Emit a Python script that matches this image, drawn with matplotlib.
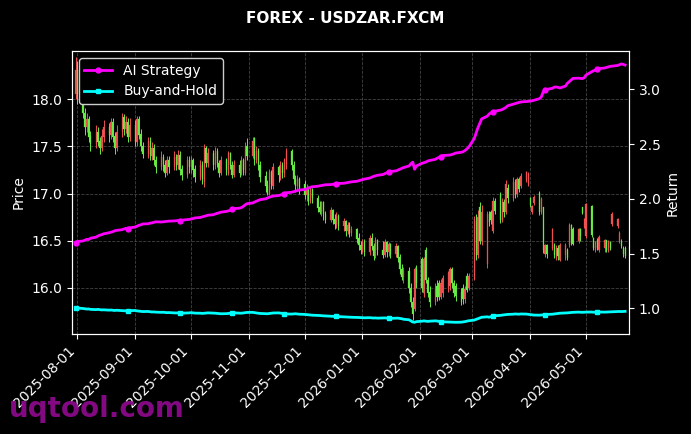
import matplotlib
matplotlib.use("Agg")
import matplotlib.pyplot as plt
import matplotlib.dates as mdates
import numpy as np
import pandas as pd

# ---------------- data ----------------
start_date = "2025-07-31"

price_open = [
    18.05, 18.30, 18.05, 17.85, 17.70, 17.78, 17.60, 17.52, 17.65, 17.55, 17.48, 17.60, 17.70, 17.62, 17.75, 17.60, 17.48, 17.65, 17.80, 17.68, 17.75, 17.60,
    17.72, 17.55, 17.78, 17.62, 17.50, 17.42, 17.55, 17.40, 17.48, 17.35, 17.28, 17.38, 17.30, 17.22, 17.35, 17.28, 17.38, 17.30, 17.40, 17.25, 17.20, 17.35,
    17.28, 17.35, 17.25, 17.18, 17.30, 17.12, 17.48, 17.32, 17.42, 17.30, 17.45, 17.32, 17.22, 17.35, 17.22, 17.42, 17.30, 17.20, 17.30, 17.22, 17.35, 17.22, 17.50,
    17.40, 17.58, 17.35, 17.45, 17.30, 17.18, 17.08, 17.00, 17.22, 17.08, 17.28, 17.18, 17.30, 17.22, 17.30, 17.45, 17.30, 17.15, 17.08, 17.15,
    17.10, 16.98, 17.05, 16.92, 17.04, 16.95, 16.85, 16.80, 16.90, 16.78, 16.72, 16.82, 16.72, 16.68, 16.76, 16.66, 16.70, 16.60, 16.66, 16.58, 16.62, 16.52, 16.45,
    16.40, 16.48, 16.38, 16.52, 16.44, 16.34, 16.50, 16.40, 16.35, 16.48, 16.38, 16.46, 16.36, 16.44, 16.32, 16.20, 16.12, 16.18, 16.00, 15.85, 15.78, 16.20,
    16.30, 15.95, 16.40, 16.08, 15.95, 15.85, 16.02, 16.05, 15.90, 15.95, 16.00, 16.02, 16.20, 16.05, 16.02, 15.95, 16.00, 15.88, 16.12, 16.00,
    16.10, 16.70, 16.35, 16.85, 16.50, 16.25, 16.78, 16.80, 16.60, 16.92, 16.98, 16.72, 16.90, 16.80, 17.05, 16.95, 17.12, 17.00, 17.15, 17.08, 17.14, 17.10,
    16.95, 16.80, 16.90, 17.00, 16.80, 16.85, 16.36, 16.45, 16.42, 16.45, 16.32, 16.42, 16.30, 16.35, 16.40, 16.45, 16.66, 16.62, 16.50, 16.62, 16.85, 16.65,
    16.55, 16.86, 16.52, 16.40, 16.50, 16.40, 16.42, 16.50, 16.40, 16.48, 16.68, 16.66, 16.50, 16.48, 16.42, 16.42,
]
price_high = [
    18.45, 18.40, 18.10, 17.90, 17.85, 17.82, 17.66, 17.72, 17.70, 17.60, 17.68, 17.78, 17.75, 17.80, 17.80, 17.65, 17.72, 17.85, 17.84, 17.82, 17.80, 17.80,
    17.78, 17.82, 17.82, 17.68, 17.55, 17.60, 17.60, 17.55, 17.52, 17.40, 17.45, 17.42, 17.35, 17.40, 17.40, 17.45, 17.42, 17.46, 17.45, 17.30, 17.40, 17.40,
    17.40, 17.38, 17.30, 17.35, 17.34, 17.52, 17.50, 17.48, 17.46, 17.49, 17.48, 17.36, 17.40, 17.38, 17.45, 17.44, 17.34, 17.36, 17.35, 17.40, 17.38, 17.55, 17.59,
    17.60, 17.60, 17.50, 17.48, 17.34, 17.24, 17.14, 17.26, 17.25, 17.32, 17.30, 17.34, 17.33, 17.38, 17.48, 17.47, 17.34, 17.20, 17.20, 17.18,
    17.14, 17.10, 17.08, 17.07, 17.06, 16.98, 16.92, 16.92, 16.92, 16.82, 16.86, 16.84, 16.78, 16.80, 16.78, 16.74, 16.72, 16.70, 16.70, 16.66, 16.64, 16.58, 16.50,
    16.52, 16.52, 16.56, 16.58, 16.48, 16.54, 16.52, 16.50, 16.52, 16.50, 16.49, 16.48, 16.48, 16.46, 16.36, 16.25, 16.22, 16.22, 16.05, 15.90, 16.22, 16.24,
    16.33, 16.33, 16.43, 16.12, 16.02, 16.05, 16.08, 16.08, 16.10, 16.14, 16.18, 16.22, 16.22, 16.08, 16.05, 16.00, 16.04, 16.02, 16.16, 16.16,
    16.76, 16.78, 16.83, 16.91, 16.88, 16.82, 16.82, 16.83, 16.96, 16.95, 17.02, 16.95, 16.94, 17.14, 17.10, 17.17, 17.15, 17.18, 17.18, 17.22, 17.24, 17.23,
    16.96, 16.88, 16.98, 17.03, 16.96, 16.86, 16.47, 16.47, 16.64, 16.48, 16.45, 16.45, 16.48, 16.48, 16.42, 16.69, 16.68, 16.65, 16.64, 16.64, 16.86, 16.74,
    16.90, 16.88, 16.54, 16.50, 16.53, 16.56, 16.52, 16.51, 16.51, 16.50, 16.80, 16.74, 16.60, 16.52, 16.44, 16.44,
]
price_low = [
    18.00, 17.95, 17.80, 17.62, 17.65, 17.55, 17.45, 17.48, 17.50, 17.42, 17.45, 17.55, 17.55, 17.58, 17.55, 17.42, 17.45, 17.60, 17.62, 17.64, 17.55, 17.56,
    17.50, 17.50, 17.58, 17.45, 17.38, 17.38, 17.35, 17.36, 17.30, 17.22, 17.25, 17.24, 17.18, 17.20, 17.22, 17.25, 17.25, 17.26, 17.20, 17.14, 17.16, 17.22,
    17.22, 17.18, 17.12, 17.14, 17.10, 17.07, 17.28, 17.28, 17.25, 17.26, 17.28, 17.18, 17.20, 17.20, 17.20, 17.26, 17.16, 17.17, 17.18, 17.20, 17.20, 17.20, 17.35,
    17.38, 17.30, 17.32, 17.25, 17.12, 17.02, 16.98, 16.98, 17.05, 17.05, 17.12, 17.14, 17.16, 17.18, 17.26, 17.25, 17.10, 17.02, 17.04, 17.00,
    16.94, 16.92, 16.88, 16.90, 16.90, 16.80, 16.78, 16.76, 16.72, 16.69, 16.70, 16.68, 16.62, 16.64, 16.61, 16.60, 16.55, 16.57, 16.54, 16.55, 16.48, 16.40, 16.36,
    16.37, 16.34, 16.35, 16.40, 16.30, 16.32, 16.35, 16.32, 16.33, 16.33, 16.34, 16.32, 16.33, 16.28, 16.15, 16.08, 16.05, 15.95, 15.80, 15.66, 15.76, 16.00,
    15.96, 15.90, 16.05, 15.90, 15.80, 15.82, 15.86, 15.87, 15.88, 15.90, 15.96, 15.98, 16.00, 15.90, 15.86, 15.82, 15.83, 15.84, 15.96, 15.98,
    16.08, 16.30, 16.32, 16.47, 16.45, 16.21, 16.66, 16.68, 16.58, 16.78, 16.69, 16.70, 16.75, 16.78, 16.90, 16.92, 16.95, 16.96, 17.02, 17.06, 17.12, 17.08,
    16.86, 16.78, 16.88, 16.77, 16.78, 16.37, 16.33, 16.32, 16.40, 16.32, 16.30, 16.30, 16.29, 16.30, 16.30, 16.43, 16.45, 16.45, 16.48, 16.50, 16.78, 16.63,
    16.53, 16.54, 16.40, 16.38, 16.40, 16.38, 16.38, 16.38, 16.38, 16.40, 16.66, 16.64, 16.48, 16.42, 16.33, 16.32,
]
price_close = [
    18.30, 18.05, 17.85, 17.70, 17.78, 17.60, 17.52, 17.65, 17.55, 17.48, 17.60, 17.70, 17.62, 17.75, 17.60, 17.48, 17.65, 17.80, 17.68, 17.75, 17.60, 17.72,
    17.55, 17.78, 17.62, 17.50, 17.42, 17.55, 17.40, 17.48, 17.35, 17.28, 17.38, 17.30, 17.22, 17.35, 17.28, 17.38, 17.30, 17.40, 17.25, 17.20, 17.35, 17.28,
    17.35, 17.25, 17.18, 17.30, 17.15, 17.48, 17.32, 17.42, 17.30, 17.45, 17.32, 17.22, 17.35, 17.25, 17.42, 17.30, 17.20, 17.30, 17.22, 17.35, 17.25, 17.50, 17.40,
    17.55, 17.35, 17.45, 17.30, 17.18, 17.08, 17.00, 17.22, 17.10, 17.28, 17.20, 17.30, 17.22, 17.35, 17.45, 17.30, 17.15, 17.08, 17.15, 17.05,
    16.98, 17.05, 16.92, 17.04, 16.95, 16.85, 16.80, 16.90, 16.78, 16.72, 16.82, 16.72, 16.68, 16.76, 16.66, 16.70, 16.60, 16.66, 16.58, 16.62, 16.52, 16.45, 16.40,
    16.48, 16.38, 16.52, 16.44, 16.34, 16.50, 16.40, 16.35, 16.48, 16.38, 16.46, 16.36, 16.44, 16.32, 16.20, 16.12, 16.18, 16.00, 15.85, 15.72, 16.20, 16.05,
    16.00, 16.30, 16.08, 15.95, 15.85, 15.98, 15.90, 15.90, 16.05, 16.10, 16.15, 16.20, 16.05, 15.95, 15.92, 15.85, 15.88, 15.98, 15.98, 16.12,
    16.72, 16.35, 16.75, 16.50, 16.80, 16.78, 16.70, 16.72, 16.92, 16.82, 16.72, 16.90, 16.80, 17.10, 16.95, 17.12, 17.00, 17.15, 17.05, 17.18, 17.22, 17.20,
    16.88, 16.86, 16.96, 16.80, 16.94, 16.40, 16.45, 16.36, 16.62, 16.35, 16.42, 16.34, 16.45, 16.45, 16.32, 16.66, 16.48, 16.47, 16.62, 16.55, 16.79, 16.72,
    16.88, 16.56, 16.42, 16.48, 16.42, 16.54, 16.50, 16.40, 16.48, 16.42, 16.78, 16.72, 16.58, 16.44, 16.36, 16.34,
]

ai_strategy = [
    1.600, 1.610, 1.615, 1.622, 1.630, 1.628, 1.640, 1.650, 1.660, 1.668, 1.672, 1.680, 1.690, 1.695, 1.700, 1.708, 1.712, 1.718, 1.725, 1.730, 1.728, 1.735,
    1.742, 1.750, 1.758, 1.762, 1.770, 1.772, 1.778, 1.780, 1.785, 1.790, 1.788, 1.790, 1.792, 1.795, 1.796, 1.798, 1.800, 1.802, 1.800, 1.805, 1.810, 1.812,
    1.815, 1.820, 1.825, 1.830, 1.835, 1.840, 1.845, 1.850, 1.855, 1.862, 1.868, 1.872, 1.878, 1.885, 1.890, 1.895, 1.905, 1.910, 1.915, 1.920, 1.930, 1.945, 1.955,
    1.962, 1.970, 1.978, 1.985, 1.992, 2.000, 2.008, 2.015, 2.020, 2.025, 2.030, 2.035, 2.040, 2.048, 2.055, 2.060, 2.065, 2.070, 2.075, 2.080,
    2.085, 2.090, 2.098, 2.105, 2.110, 2.115, 2.118, 2.120, 2.125, 2.128, 2.130, 2.132, 2.135, 2.138, 2.140, 2.142, 2.145, 2.148, 2.150, 2.155, 2.160, 2.165, 2.170,
    2.175, 2.180, 2.190, 2.198, 2.205, 2.210, 2.215, 2.222, 2.230, 2.238, 2.245, 2.250, 2.255, 2.262, 2.270, 2.278, 2.285, 2.300, 2.320, 2.335, 2.270, 2.300,
    2.325, 2.330, 2.335, 2.345, 2.350, 2.360, 2.370, 2.378, 2.385, 2.395, 2.398, 2.400, 2.405, 2.410, 2.418, 2.425, 2.430, 2.440, 2.455, 2.470,
    2.550, 2.600, 2.650, 2.690, 2.730, 2.755, 2.775, 2.785, 2.795, 2.800, 2.810, 2.815, 2.825, 2.835, 2.850, 2.865, 2.870, 2.875, 2.880, 2.885, 2.888, 2.890,
    2.892, 2.895, 2.900, 2.915, 2.930, 2.975, 2.995, 3.000, 3.010, 3.020, 3.022, 3.018, 3.012, 3.030, 3.055, 3.070, 3.085, 3.100, 3.102, 3.100, 3.098, 3.105,
    3.130, 3.160, 3.170, 3.175, 3.185, 3.190, 3.195, 3.200, 3.205, 3.210, 3.212, 3.218, 3.225, 3.232, 3.228, 3.222,
]
buy_and_hold = [
    1.005, 1.002, 0.998, 0.995, 0.993, 0.994, 0.990, 0.988, 0.990, 0.987, 0.985, 0.986, 0.983, 0.984, 0.982, 0.980, 0.982, 0.979, 0.978, 0.976, 0.975, 0.978,
    0.980, 0.976, 0.974, 0.972, 0.970, 0.971, 0.968, 0.966, 0.967, 0.965, 0.963, 0.964, 0.962, 0.960, 0.961, 0.958, 0.957, 0.958, 0.956, 0.955, 0.957, 0.958,
    0.960, 0.958, 0.956, 0.955, 0.953, 0.955, 0.957, 0.958, 0.956, 0.955, 0.953, 0.952, 0.950, 0.951, 0.953, 0.955, 0.957, 0.958, 0.956, 0.955, 0.957, 0.960, 0.962,
    0.963, 0.960, 0.958, 0.955, 0.953, 0.951, 0.950, 0.952, 0.955, 0.957, 0.958, 0.956, 0.953, 0.950, 0.948, 0.947, 0.949, 0.950, 0.948, 0.946,
    0.944, 0.942, 0.940, 0.938, 0.937, 0.935, 0.934, 0.932, 0.931, 0.930, 0.928, 0.927, 0.926, 0.925, 0.924, 0.922, 0.921, 0.920, 0.919, 0.918, 0.917, 0.916, 0.915,
    0.914, 0.913, 0.914, 0.912, 0.911, 0.912, 0.910, 0.911, 0.912, 0.910, 0.909, 0.908, 0.909, 0.910, 0.908, 0.905, 0.900, 0.895, 0.885, 0.875, 0.872, 0.878,
    0.882, 0.885, 0.883, 0.880, 0.882, 0.885, 0.884, 0.880, 0.878, 0.876, 0.875, 0.874, 0.873, 0.872, 0.872, 0.873, 0.875, 0.878, 0.882, 0.886,
    0.892, 0.898, 0.905, 0.912, 0.918, 0.922, 0.918, 0.924, 0.928, 0.932, 0.935, 0.938, 0.940, 0.942, 0.944, 0.946, 0.948, 0.947, 0.946, 0.948, 0.947, 0.945,
    0.943, 0.940, 0.938, 0.937, 0.938, 0.940, 0.942, 0.944, 0.946, 0.948, 0.950, 0.952, 0.955, 0.957, 0.958, 0.960, 0.962, 0.963, 0.965, 0.964, 0.963, 0.964,
    0.965, 0.966, 0.964, 0.965, 0.967, 0.966, 0.965, 0.966, 0.968, 0.969, 0.968, 0.970, 0.971, 0.970, 0.971, 0.972,
]

title = "FOREX - USDZAR.FXCM"
series_labels = ["AI Strategy", "Buy-and-Hold"]
watermark = "uqtool.com"

# ---------------- figure ----------------
n = len(price_close)
dates = pd.bdate_range(start_date, periods=n)
xd = mdates.date2num(dates.to_pydatetime())

o = np.array(price_open[:n]); h = np.array(price_high[:n])
l = np.array(price_low[:n]); c = np.array(price_close[:n])
m = min(len(o), len(h), len(l), len(c))
o, h, l, c, xc = o[:m], h[:m], l[:m], c[:m], xd[:m]

up_col = "#f05050"
dn_col = "#66ee44"
cols = np.where(c >= o, up_col, dn_col)

fig = plt.figure(figsize=(6.91, 4.34), dpi=100, facecolor="black")
ax = fig.add_axes([0.104, 0.2304, 0.806, 0.652])
ax.set_facecolor("black")

ax.vlines(xc, l, h, colors=cols, linewidth=0.7, zorder=2)
ax.bar(xc, np.abs(c - o) + 0.005, bottom=np.minimum(o, c), width=0.6,
       color=cols, edgecolor=cols, linewidth=0.2, zorder=3)

ax.set_ylim(15.513, 18.508)
ax.set_yticks([16.0, 16.5, 17.0, 17.5, 18.0])
ax.set_ylabel("Price", color="white", fontsize=10)
ax.set_xlim(mdates.date2num(pd.Timestamp("2025-07-29")), mdates.date2num(pd.Timestamp("2026-05-24")))
ax.xaxis.set_major_locator(mdates.MonthLocator())
ax.xaxis.set_major_formatter(mdates.DateFormatter("%Y-%m-%d"))
ax.grid(True, color="#555555", linestyle="--", linewidth=0.6, alpha=0.8)
ax.tick_params(colors="white", labelsize=10)
for s in ax.spines.values():
    s.set_color("white")

ax2 = ax.twinx()
ax2.plot(xd[:len(ai_strategy)], ai_strategy[:n], color="#ff00ff", linewidth=2.0,
         marker="o", markersize=3.5, markevery=20, label=series_labels[0], zorder=5)
ax2.plot(xd[:len(buy_and_hold)], buy_and_hold[:n], color="#00ffff", linewidth=2.0,
         marker="s", markersize=3.5, markevery=20, label=series_labels[1], zorder=5)
ax2.set_ylim(0.765, 3.35)
ax2.set_yticks([1.0, 1.5, 2.0, 2.5, 3.0])
ax2.set_ylabel("Return", color="white", fontsize=10)
ax2.tick_params(colors="white", labelsize=10)
for s in ax2.spines.values():
    s.set_color("white")
plt.setp(ax.get_xticklabels(), rotation=45, ha="right")

leg = ax2.legend(loc="upper left", fontsize=10, facecolor="black", edgecolor="#cccccc",
                 framealpha=1.0, borderaxespad=0.5)
for t in leg.get_texts():
    t.set_color("white")

fig.text(0.5, 0.958, title, color="white", fontsize=11, fontweight="bold",
         ha="center", va="center")
fig.text(0.013, 0.057, watermark, color="#8a0a8a", fontsize=20, fontweight="bold",
         ha="left", va="center", alpha=0.95)

fig.savefig("out.png", dpi=100, facecolor="black")
